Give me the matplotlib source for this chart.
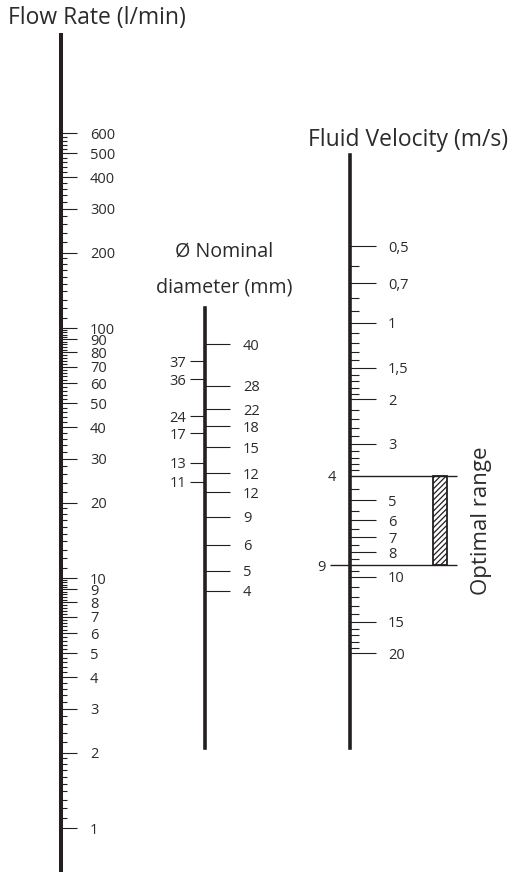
import matplotlib
matplotlib.use("Agg")
import matplotlib.pyplot as plt
import numpy as np
from matplotlib.patches import Rectangle

plt.rcParams['font.family'] = ['Open Sans', 'DejaVu Sans']
plt.rcParams['hatch.linewidth'] = 0.9

INK = '#231f20'
TXT = '#2b2b2b'

# flow rate scale (l/min), labelled graduations
flow_major = [1, 2, 3, 4, 5, 6, 7, 8, 9, 10, 20, 30, 40, 50, 60, 70, 80, 90,
              100, 200, 300, 400, 500, 600]
flow_top = 600

# nominal diameter scale: bore (mm) and printed label, both sides
dia_right = [38.8, 26.4, 21.3, 18.2, 15.0, 11.8, 9.9, 7.9, 6.1, 4.8, 4.0]
dia_right_labels = ['40', '28', '22', '18', '15', '12', '12', '9', '6', '5', '4']
dia_left = [33.2, 28.1, 20.0, 17.1, 13.0, 10.9]
dia_left_labels = ['37', '36', '24', '17', '13', '11']

# fluid velocity scale (m/s)
vel_major = [0.5, 0.7, 1, 1.5, 2, 3, 5, 6, 7, 8, 10, 15, 20]
vel_labels = ['0,5', '0,7', '1', '1,5', '2', '3', '5', '6', '7', '8', '10', '15', '20']
vel_minor = [0.6, 0.8, 0.9, 1.1, 1.2, 1.3, 1.4, 1.6, 1.7, 1.8, 1.9,
             2.2, 2.4, 2.6, 2.8, 3.2, 3.4, 3.6, 3.8, 4.5, 5.5, 6.5, 7.5,
             8.5, 9.5, 11, 12, 13, 14, 16, 17, 18, 19]
opt_low, opt_high = 4, 9

W, H = 512, 872
fig = plt.figure(figsize=(W / 100, H / 100), dpi=100)
fig.patch.set_facecolor('white')

LABEL_FS = 10.5
TITLE_FS = 16.5


def scale_axes(v_ref, y_ref, px_per_dec, down=False):
    # transparent full-figure axes: x in pixels, y on a log scale
    ax = fig.add_axes([0, 0, 1, 1], facecolor='none')
    ax.set_yscale('log')
    s = 1 if down else -1
    top = 10 ** (np.log10(v_ref) + s * (0 - y_ref) / px_per_dec)
    bottom = 10 ** (np.log10(v_ref) + s * (H - y_ref) / px_per_dec)
    ax.set_ylim(bottom, top)
    ax.set_xlim(0, W)
    ax.axis('off')
    return ax


# minor graduations of the flow scale
flow_minor = []
for dec in [1, 10, 100]:
    for f in np.arange(1.1, 2.0, 0.1):
        flow_minor.append(round(f * dec, 6))
    for f in np.arange(2.2, 10.0, 0.2):
        if abs(f - round(f)) > 1e-6:
            flow_minor.append(round(f * dec, 6))
flow_minor = [v for v in flow_minor if v < flow_top]

# flow rate axis
axf = scale_axes(1, 828, 250)
axf.axvline(61, ymin=0, ymax=1 - 35 / H, lw=2.9, color=INK)
axf.hlines(flow_minor, 61, 67, lw=0.8, color=INK)
axf.hlines(flow_major, 61, 77, lw=0.8, color=INK)
for v in flow_major:
    axf.text(90, v, str(v), ha='left', va='center_baseline', fontsize=LABEL_FS, color=TXT)

# nominal diameter axis
axd = scale_axes(10, 491.3, 250)
axd.axvline(205, ymin=1 - 748 / H, ymax=1 - 308 / H, lw=2.6, color=INK)
axd.hlines(dia_right, 205, 230, lw=0.8, color=INK)
axd.hlines(dia_left, 190, 205, lw=0.8, color=INK)
for v, s in zip(dia_right, dia_right_labels):
    axd.text(243, v, s, ha='left', va='center_baseline', fontsize=LABEL_FS, color=TXT)
for v, s in zip(dia_left, dia_left_labels):
    axd.text(186, v, s, ha='right', va='center_baseline', fontsize=LABEL_FS, color=TXT)

# fluid velocity axis
axv = scale_axes(1, 322.8, 254, down=True)
axv.axvline(350, ymin=1 - 748 / H, ymax=1 - 155 / H, lw=2.6, color=INK)
axv.hlines(vel_minor, 350, 359, lw=0.8, color=INK)
axv.hlines(vel_major, 350, 376, lw=0.8, color=INK)
for v, s in zip(vel_major, vel_labels):
    axv.text(388, v, s, ha='left', va='center_baseline', fontsize=LABEL_FS, color=TXT)

# optimal velocity band
axv.hlines(opt_low, 350, 457, lw=1.0, color=INK)
axv.hlines(opt_high, 330, 457, lw=1.0, color=INK)
axv.text(332, opt_low, str(opt_low), ha='center', va='center_baseline', fontsize=LABEL_FS, color=TXT)
axv.text(326, opt_high, str(opt_high), ha='right', va='center_baseline', fontsize=LABEL_FS, color=TXT)
axv.add_patch(Rectangle((433, opt_low), 14, opt_high - opt_low, facecolor='white',
                        edgecolor=INK, lw=1.3, hatch='//////'))
axv.text(482, np.sqrt(opt_low * opt_high), 'Optimal range', rotation=90,
         ha='center', va='center', fontsize=16, color=TXT)

# scale titles
fig.text(8 / W, 1 - 18 / H, 'Flow Rate (l/min)', ha='left', va='center', fontsize=TITLE_FS, color=TXT)
fig.text(224 / W, 1 - 252 / H, 'Ø Nominal', ha='center', va='center', fontsize=14.2, color=TXT)
fig.text(224 / W, 1 - 288 / H, 'diameter (mm)', ha='center', va='center', fontsize=14.2, color=TXT)
fig.text(408 / W, 1 - 140 / H, 'Fluid Velocity (m/s)', ha='center', va='center', fontsize=TITLE_FS, color=TXT)

fig.savefig('out.png', dpi=100, facecolor='white')
